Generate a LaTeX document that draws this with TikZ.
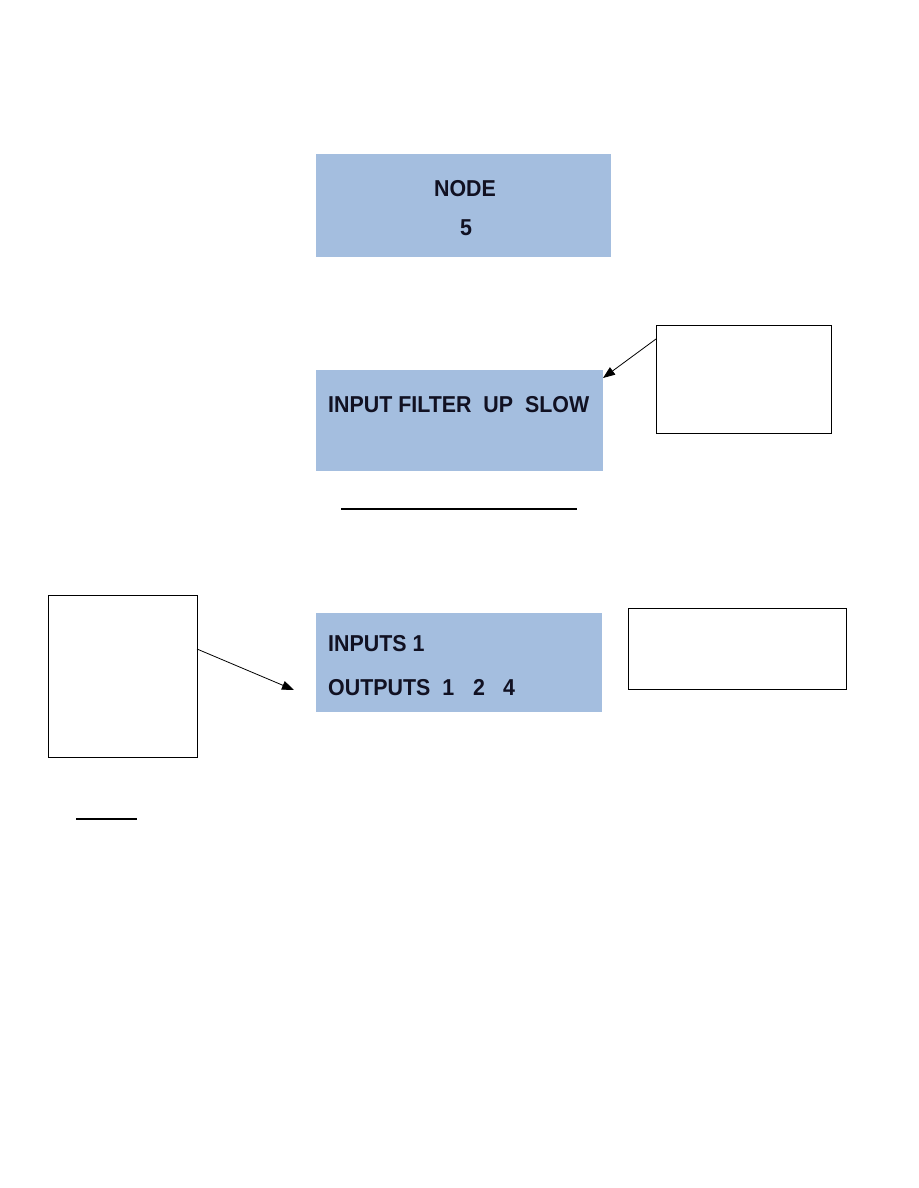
\documentclass[tikz,border=0pt]{standalone}
\usepackage{fontspec}
\setmainfont{Liberation Sans}
\newfontfamily\lcdfont[FakeStretch=0.93]{Liberation Sans}
\usetikzlibrary{arrows.meta}
\definecolor{lcdblue}{HTML}{A4BEDF}
\definecolor{lcdink}{HTML}{111122}
\begin{document}
\begin{tikzpicture}[x=1pt,y=-1pt,
  lcdtext/.style={font=\lcdfont\bfseries\fontsize{23}{27}\selectfont,inner sep=0pt,text=lcdink},
  callout/.style={draw=black,line width=0.9pt,fill=white},
  pointer/.style={draw=black,line width=0.8pt,-{Triangle[length=12pt,width=9pt]}}]
\useasboundingbox (0,0) rectangle (918,1188);
\fill[white] (0,0) rectangle (918,1188);
% LCD 1
\fill[lcdblue] (316,154) rectangle (611,257);
\node[lcdtext,anchor=base] (node) at (465,196) {NODE};
\node[lcdtext,anchor=base] (five) at (466,235) {5};
% LCD 2
\fill[lcdblue] (316,370) rectangle (603,471);
\coordinate (lcd2ne) at (603,378);
\node[lcdtext,anchor=base west] (filter) at (328,412) {INPUT FILTER\ \ UP\ \ SLOW};
% callout right top
\node[callout,minimum width=175pt,minimum height=108pt,inner sep=0pt,anchor=north west] (c1) at (656,325) {};
\coordinate (c1a) at (656,339);
\draw[pointer] (c1a) -- (lcd2ne);
% underline
\draw[line width=1.8pt] (341,509) -- (577,509);
% LCD 3
\fill[lcdblue] (316,613) rectangle (602,712);
\node[lcdtext,anchor=base west] (inputs) at (328,651) {INPUTS 1};
\node[lcdtext,anchor=base west] (outputs) at (328,695) {OUTPUTS\ \ 1\hspace{19pt}2\hspace{18pt}4};
% left callout
\node[callout,minimum width=149pt,minimum height=162pt,inner sep=0pt,anchor=north west] (c2) at (48,595) {};
\coordinate (c2a) at (197,649);
\coordinate (c2b) at (294,690);
\draw[pointer] (c2a) -- (c2b);
% right callout
\node[callout,minimum width=218pt,minimum height=81pt,inner sep=0pt,anchor=north west] (c3) at (628,608) {};
% small line
\draw[line width=1.3pt] (76,819) -- (137,819);
\end{tikzpicture}
\end{document}
